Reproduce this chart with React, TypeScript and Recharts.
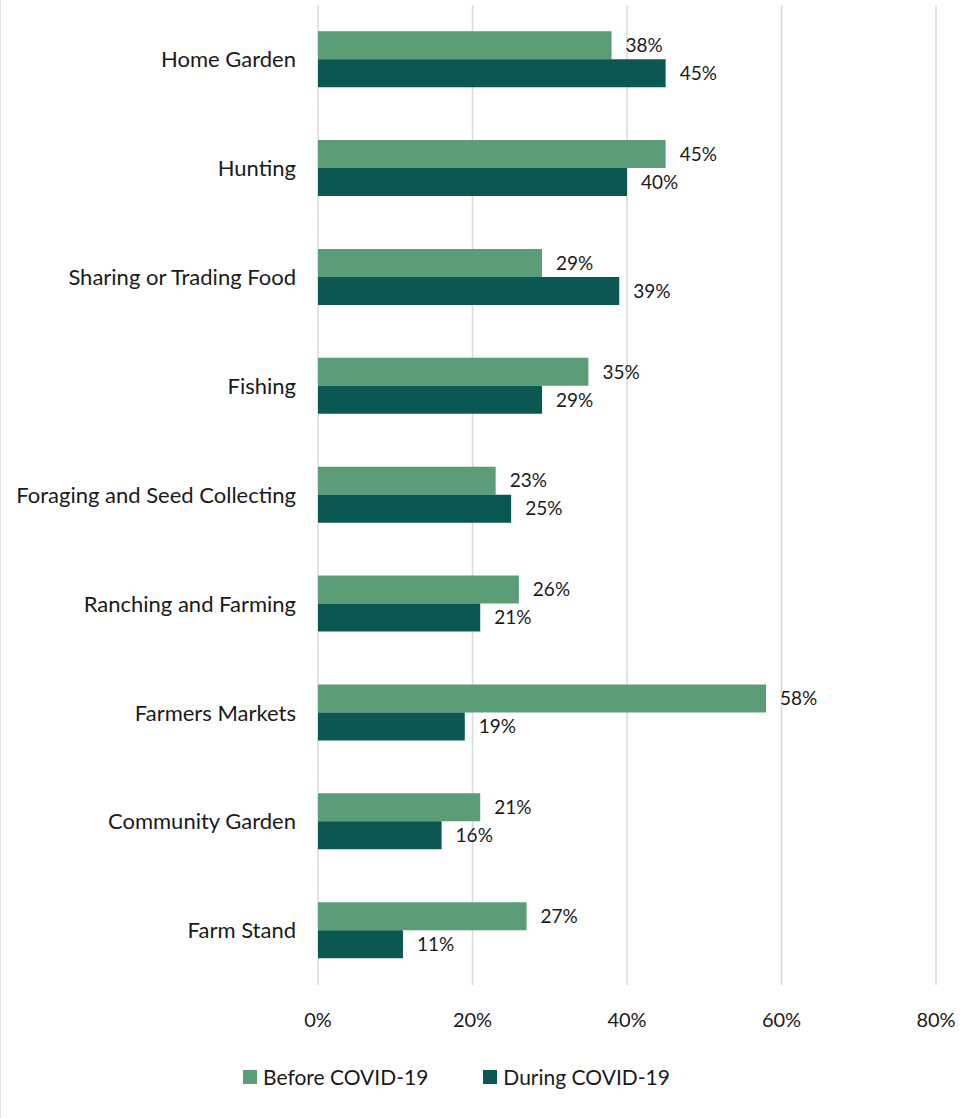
import { BarChart, Bar, XAxis, YAxis, CartesianGrid, LabelList, Legend } from 'recharts'

const categories = [
  'Home Garden',
  'Hunting',
  'Sharing or Trading Food',
  'Fishing',
  'Foraging and Seed Collecting',
  'Ranching and Farming',
  'Farmers Markets',
  'Community Garden',
  'Farm Stand',
]
const beforeCovid = [38, 45, 29, 35, 23, 26, 58, 21, 27]
const duringCovid = [45, 40, 39, 29, 25, 21, 19, 16, 11]
const xTicks = [0, 20, 40, 60, 80]
const seriesNames = ['Before COVID-19', 'During COVID-19']

const data = categories.map((name, i) => ({
  name,
  before: beforeCovid[i],
  during: duringCovid[i],
}))

const FONT = 'Lato, "Open Sans", sans-serif'
const BEFORE = '#5a9d76'
const DURING = '#0b5752'
const TEXT = '#1a1a1a'

function LegendContent() {
  const colors = [BEFORE, DURING]
  return (
    <div style={{ display: 'flex', alignItems: 'center', paddingLeft: 243, fontSize: 21, fontFamily: FONT, color: TEXT }}>
      {seriesNames.map((n, i) => (
        <div key={n} style={{ display: 'flex', alignItems: 'center', marginRight: 55 }}>
          <span style={{ width: 14, height: 14, background: colors[i], display: 'inline-block', marginRight: 6 }} />
          <span>{n}</span>
        </div>
      ))}
    </div>
  )
}

export default function App() {
  return (
    <div style={{ position: 'absolute', left: 0, top: 0, width: 975, height: 1118, background: '#fff', fontFamily: FONT }}>
      <div style={{ position: 'absolute', left: 0, top: 0, width: 1, height: 1118, background: '#e4e4e4' }} />
      <BarChart
        width={975}
        height={1118}
        data={data}
        layout="vertical"
        margin={{ top: 5, right: 39, left: 0, bottom: 29 }}
        barCategoryGap="24%"
        barGap={0}
      >
        <CartesianGrid horizontal={false} stroke="#d9d9d9" strokeWidth={1.5} />
        <XAxis
          type="number"
          domain={[0, 80]}
          ticks={xTicks}
          tickFormatter={(v: number) => `${v}%`}
          axisLine={false}
          tickLine={false}
          tickSize={0}
          tickMargin={28}
          height={79}
          tick={{ fill: TEXT, fontSize: 20, fontFamily: FONT }}
        />
        <YAxis
          type="category"
          dataKey="name"
          width={318}
          axisLine={false}
          tickLine={false}
          tickSize={0}
          tickMargin={22}
          tick={{ fill: TEXT, fontSize: 22, fontFamily: FONT }}
        />
        <Legend verticalAlign="bottom" content={<LegendContent />} wrapperStyle={{ left: 0, width: 975 }} />
        <Bar dataKey="before" name={seriesNames[0]} fill={BEFORE} isAnimationActive={false}>
          <LabelList
            dataKey="before"
            position="right"
            offset={14}
            formatter={(v: number) => `${v}%`}
            style={{ fill: TEXT, fontSize: 19, fontFamily: FONT }}
          />
        </Bar>
        <Bar dataKey="during" name={seriesNames[1]} fill={DURING} isAnimationActive={false}>
          <LabelList
            dataKey="during"
            position="right"
            offset={14}
            formatter={(v: number) => `${v}%`}
            style={{ fill: TEXT, fontSize: 19, fontFamily: FONT }}
          />
        </Bar>
      </BarChart>
    </div>
  )
}
